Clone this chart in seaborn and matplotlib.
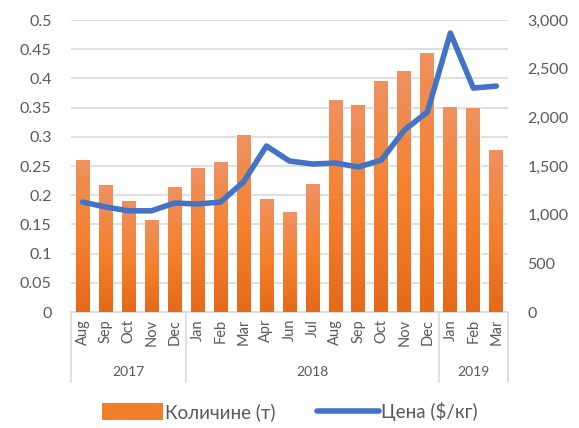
import numpy as np
import pandas as pd
import seaborn as sns
import matplotlib.pyplot as plt
from matplotlib.patches import Patch
from matplotlib.lines import Line2D
from matplotlib.colors import LinearSegmentedColormap
import matplotlib.transforms as mtransforms

# data
months = ['Aug', 'Sep', 'Oct', 'Nov', 'Dec',
          'Jan', 'Feb', 'Mar', 'Apr', 'Jun', 'Jul', 'Aug', 'Sep', 'Oct', 'Nov', 'Dec',
          'Jan', 'Feb', 'Mar']
years = ['2017'] * 5 + ['2018'] * 11 + ['2019'] * 3
quantity = [0.260, 0.217, 0.190, 0.158, 0.214,
            0.247, 0.257, 0.303, 0.193, 0.171, 0.219, 0.363, 0.354, 0.396, 0.413, 0.443,
            0.351, 0.349, 0.277]
price = [1130, 1080, 1040, 1040, 1120,
         1110, 1130, 1336, 1706, 1552, 1521, 1531, 1490, 1562, 1870, 2055,
         2867, 2302, 2322]
qty_label = 'Количине (т)'
price_label = 'Цена ($/кг)'

df = pd.DataFrame({'month': months, 'year': years, 'qty': quantity, 'price': price})
df['period'] = df['month'] + ' ' + df['year']
df['pos'] = np.arange(len(df))

sns.set_theme(style='white')
plt.rcParams['font.family'] = ['Lato', 'DejaVu Sans']
txt = '#595959'

fig = plt.figure(figsize=(5.79, 4.28), dpi=100)
ax = fig.add_axes([0.1226, 0.271, 0.7545, 0.682])

sns.barplot(data=df, x='period', y='qty', color='#F07F2B', width=0.6,
            saturation=1, ax=ax, zorder=2)

# vertical gradient on the bars
cmap = LinearSegmentedColormap.from_list('og', ['#E56A1A', '#F5812F', '#EF9160'])
grad = np.linspace(0, 1, 100).reshape(-1, 1)
for p in ax.patches:
    x0, y0 = p.get_x(), p.get_y()
    w, h = p.get_width(), p.get_height()
    im = ax.imshow(grad, cmap=cmap, origin='lower', aspect='auto',
                   extent=[x0, x0 + w, y0, y0 + h], zorder=2.1)
    im.set_clip_path(p)

ax.set_xlim(-0.5, len(df) - 0.5)
ax.set_ylim(0, 0.5)
ax.set_yticks(np.arange(0, 0.501, 0.05))
ax.set_yticklabels(['0' if v == 0 else f'{v:g}' for v in np.round(np.arange(0, 0.501, 0.05), 2)])
ax.grid(axis='y', color='#D9D9D9', linewidth=1.2, zorder=0)
ax.set_axisbelow(True)
for s in ax.spines.values():
    s.set_visible(False)
ax.set_xlabel('')
ax.set_ylabel('')
ax.tick_params(axis='y', length=0, labelsize=11.5, labelcolor=txt, pad=14)
ax.set_xticks(df['pos'])
ax.set_xticklabels(df['month'], rotation=90, fontsize=10.5, color=txt)
ax.tick_params(axis='x', length=0, pad=5)

ax2 = ax.twinx()
sns.lineplot(data=df, x='pos', y='price', color='#4472C4', linewidth=4,
             ax=ax2, solid_capstyle='round', solid_joinstyle='round', zorder=3)
ax2.set_ylim(0, 3000)
ax2.set_yticks(np.arange(0, 3001, 500))
ax2.set_yticklabels([f'{v:,}' for v in range(0, 3001, 500)])
ax2.tick_params(axis='y', length=0, labelsize=11.5, labelcolor=txt, pad=14)
ax2.set_ylabel('')
ax2.set_xlabel('')
for s in ax2.spines.values():
    s.set_visible(False)
ax2.grid(False)

# two-level category axis
trans = mtransforms.blended_transform_factory(ax.transData, ax.transAxes)
sep_col = '#D9D9D9'
for xb in [-0.5, 4.5, 15.5, 18.5]:
    ax.plot([xb, xb], [0, -0.24], transform=trans, color=sep_col, lw=1.2,
            clip_on=False)
ax.plot([-0.5, 18.5], [0, 0], transform=trans, color=sep_col, lw=1.2, clip_on=False)
for yr, grp in df.groupby('year'):
    ax.text(grp['pos'].mean(), -0.207, yr, transform=trans, ha='center', va='center',
            fontsize=10, color=txt)

handles = [Patch(facecolor='#F07F2B', edgecolor='none'),
           Line2D([0], [0], color='#4472C4', lw=4, solid_capstyle='round')]
fig.legend(handles, [qty_label, price_label], loc='center', bbox_to_anchor=(0.5, 0.038),
           ncol=2, frameon=False, fontsize=13.5, labelcolor=txt, handlelength=3.3,
           handleheight=1.0, handletextpad=0.1, columnspacing=2.2)

fig.savefig('out.png', dpi=100)
